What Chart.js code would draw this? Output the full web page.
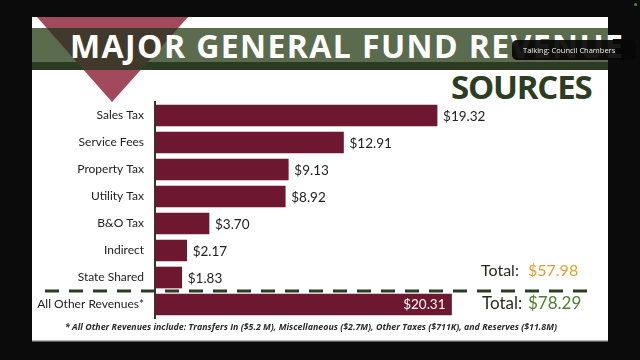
<!DOCTYPE html>
<html>
<head>
<meta charset="utf-8">
<script src="https://cdn.jsdelivr.net/npm/chart.js@4.4.1/dist/chart.umd.min.js"></script>
<style>
  html, body { margin:0; padding:0; width:640px; height:360px; background:#0b0b0b; overflow:hidden; }
  #slide { position:absolute; left:32px; top:17px; width:576px; height:324px; background:#ffffff; }
  #deco { position:absolute; left:0; top:0; }
  #title1 { position:absolute; left:70px; top:24px; font-family:"Open Sans"; font-weight:700; font-size:32px; color:#ffffff; white-space:nowrap; letter-spacing:1.4px; }
  #title2 { position:absolute; left:451px; top:64px; font-family:"Open Sans"; font-weight:700; font-size:33px; color:#2d3d22; white-space:nowrap; letter-spacing:-1.2px; }
  #overlay { position:absolute; left:512px; top:40px; width:124px; height:20px; background:rgba(8,8,8,0.93); border-radius:5px; }
  #overlay span { position:absolute; left:11px; top:5px; font-family:"Open Sans"; font-size:7.5px; color:#f2f2f2; white-space:nowrap; }
  #dot { position:absolute; left:634px; top:3px; width:3px; height:3px; border-radius:2px; background:#3a8a3a; }
  #note { position:absolute; left:65px; top:320px; font-family:"Open Sans"; font-weight:700; font-style:italic; font-size:9.6px; color:#2a2a2a; white-space:nowrap; transform-origin:0 0; }
  #c { position:absolute; left:0; top:0; }
</style>
</head>
<body>
<div id="slide"></div>
<svg id="deco" width="640" height="360">
  <defs>
    <clipPath id="bandclip"><rect x="32" y="28" width="576" height="42"/></clipPath>
  </defs>
  <polygon points="37,17 188,17 112,102" fill="#a24a5d"/>
  <rect x="32" y="28" width="576" height="34" fill="#5b6b4e"/>
  <rect x="32" y="62" width="576" height="8" fill="#2e3b23"/>
  <polygon points="37,17 188,17 112,102" fill="#413a2c" clip-path="url(#bandclip)"/>
  <rect x="32" y="340" width="576" height="1.5" fill="#b8b8b8"/>
</svg>
<div id="title1">MAJOR GENERAL FUND REVENUE</div>
<div id="title2">SOURCES</div>
<canvas id="c" width="640" height="360"></canvas>
<div id="note">* All Other Revenues include: Transfers In ($5.2 M), Miscellaneous ($2.7M), Other Taxes ($711K), and Reserves ($11.8M)</div>
<div id="overlay"><span>Talking: Council Chambers</span></div>
<div id="dot"></div>
<script>
const categories = ["Sales Tax", "Service Fees", "Property Tax", "Utility Tax", "B&O Tax", "Indirect", "State Shared", "All Other Revenues*"];
const revenues = [19.32, 12.91, 9.13, 8.92, 3.70, 2.17, 1.83, 20.31];
const majorCount = 7;
const majorTotal = 57.98;
const grandTotal = 78.29;

const BAR = "#6e1730";
const AXIS = "#2d3a24";

// fit footnote to its width in the slide
(function () {
  const n = document.getElementById("note");
  const w = n.getBoundingClientRect().width;
  n.style.transform = "scaleX(" + (492 / w) + ")";
})();

const labelsPlugin = {
  id: "labelsPlugin",
  afterDatasetsDraw(chart) {
    const ctx = chart.ctx;
    const meta = chart.getDatasetMeta(0);
    const ys = chart.scales.y;
    ctx.save();
    ctx.textBaseline = "middle";
    meta.data.forEach((bar, i) => {
      const txt = "$" + revenues[i].toFixed(2);
      ctx.font = "13.5px Lato";
      if (i < majorCount) {
        ctx.fillStyle = "#222222";
        ctx.textAlign = "left";
        ctx.fillText(txt, bar.x + 6, bar.y + 1);
      } else {
        ctx.fillStyle = "#ffffff";
        ctx.textAlign = "right";
        ctx.fillText(txt, bar.x - 6, bar.y);
      }
    });
    // dashed separator between major sources and others
    const yA = ys.getPixelForValue(majorCount - 1);
    const yB = ys.getPixelForValue(majorCount);
    const yd = (yA + yB) / 2;
    ctx.strokeStyle = AXIS;
    ctx.lineWidth = 3;
    ctx.setLineDash([14, 10]);
    ctx.beginPath();
    ctx.moveTo(45, yd);
    ctx.lineTo(590, yd);
    ctx.stroke();
    ctx.setLineDash([]);
    // totals
    ctx.font = "16px Lato";
    ctx.textAlign = "left";
    const t1y = yA - 7;
    ctx.fillStyle = "#1f2a18";
    ctx.fillText("Total:", 481, t1y);
    ctx.fillStyle = "#e0a22e";
    ctx.fillText("$" + majorTotal.toFixed(2), 528, t1y);
    const t2y = yB - 1;
    ctx.fillStyle = "#1f2a18";
    ctx.font = "17px Lato";
    ctx.fillText("Total:", 482, t2y);
    ctx.fillStyle = "#4f7d36";
    ctx.fillText("$" + grandTotal.toFixed(2), 528, t2y);
    ctx.restore();
  }
};

new Chart(document.getElementById("c"), {
  type: "bar",
  data: {
    labels: categories,
    datasets: [{
      data: revenues,
      backgroundColor: BAR,
      borderWidth: 0,
      barThickness: 21
    }]
  },
  options: {
    indexAxis: "y",
    responsive: false,
    animation: false,
    events: [],
    layout: { padding: { left: 0, top: 102, bottom: 42, right: 47 } },
    plugins: { legend: { display: false }, tooltip: { enabled: false } },
    scales: {
      x: { display: false, min: 0, max: 30 },
      y: {
        afterFit(scale) { scale.width = 155; },
        grid: { display: false, drawTicks: false },
        border: { display: true, color: AXIS, width: 2 },
        ticks: { color: "#222222", padding: 11, font: { family: "Lato", size: 12 } }
      }
    }
  },
  plugins: [labelsPlugin]
});
</script>
</body>
</html>
